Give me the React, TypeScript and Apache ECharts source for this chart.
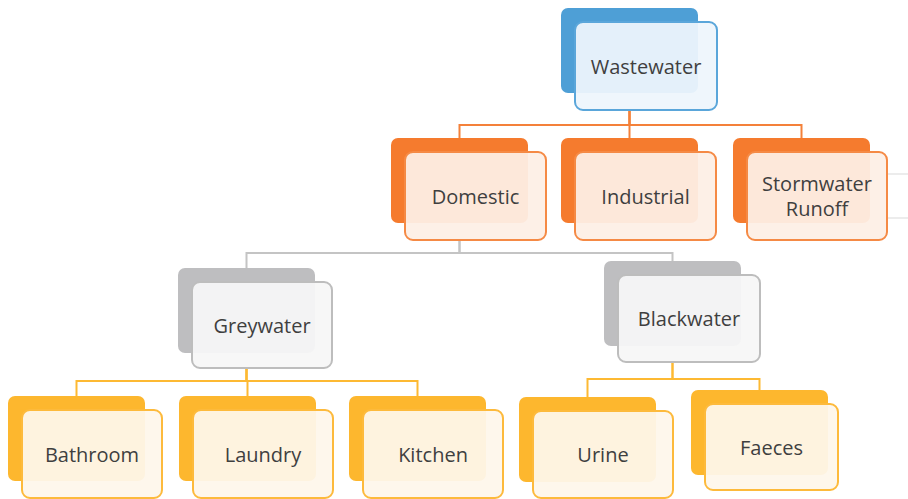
import React, { useEffect, useRef } from "react";
import * as echarts from "echarts";

// ---- data ----
const nodeNames = [
  "Wastewater",
  "Domestic",
  "Industrial",
  "Stormwater\nRunoff",
  "Greywater",
  "Blackwater",
  "Bathroom",
  "Laundry",
  "Kitchen",
  "Urine",
  "Faeces",
];
const nodeParents = [-1, 0, 0, 0, 1, 1, 4, 4, 4, 5, 5];
const nodeTheme = ["blue", "orange", "orange", "orange", "grey", "grey", "yellow", "yellow", "yellow", "yellow", "yellow"];

// ---- layout (front box left/top/width/height) ----
const frontX = [575, 405, 575, 747, 192, 618, 22, 193, 363, 533, 705];
const frontY = [22, 152, 152, 152, 282, 275, 410, 410, 410, 411, 404];
const frontW = [142, 141, 141, 140, 140, 142, 140, 140, 140, 140, 133];
const frontH = [88, 88, 88, 88, 86, 87, 88, 88, 88, 87, 86];
const backDX = -14;
const backDY = -14;
const backW = 137;
const backH = 85;
const busY: Record<number, number> = { 0: 125, 1: 253, 4: 381, 5: 379 };

const themes: Record<string, { back: string; fill: string; border: string; line: string }> = {
  blue: { back: "#4E9FD6", fill: "rgba(238,245,252,0.94)", border: "#5AA6DA", line: "#F4813A" },
  orange: { back: "#F57B2E", fill: "rgba(253,239,230,0.94)", border: "#F58A45", line: "#C4C4C4" },
  grey: { back: "#BEBEC0", fill: "rgba(247,247,247,0.94)", border: "#BDBDBD", line: "#FDB933" },
  yellow: { back: "#FDB72E", fill: "rgba(254,247,235,0.94)", border: "#FDBA3C", line: "#FDB933" },
};

export default function App() {
  const ref = useRef<HTMLDivElement>(null);
  useEffect(() => {
    if (!ref.current) return;
    const chart = echarts.init(ref.current, undefined, { renderer: "svg" });
    const elements: any[] = [];
    const stemX = (i: number) => frontX[i] + backDX + backW / 2;

    // connectors
    nodeParents.forEach((p, i) => {
      if (p < 0) return;
      const color = themes[nodeTheme[p]].line;
      const by = busY[p];
      const px = stemX(p);
      const cx = stemX(i);
      elements.push({
        type: "polyline",
        z: 1,
        shape: {
          points: [
            [px, frontY[p] + frontH[p]],
            [px, by],
            [cx, by],
            [cx, frontY[i] + backDY],
          ],
        },
        style: { stroke: color, lineWidth: 2, fill: null },
      });
    });

    // faint cut-off lines at right edge
    [174, 218].forEach((y) => {
      elements.push({
        type: "line",
        z: 1,
        shape: { x1: 888, y1: y, x2: 908, y2: y },
        style: { stroke: "#E6E6E6", lineWidth: 1.5 },
      });
    });

    nodeNames.forEach((name, i) => {
      const t = themes[nodeTheme[i]];
      elements.push({
        type: "rect",
        z: 2,
        shape: { x: frontX[i] + backDX, y: frontY[i] + backDY, width: backW, height: backH, r: 7 },
        style: { fill: t.back },
      });
      elements.push({
        type: "rect",
        z: 3,
        shape: { x: frontX[i], y: frontY[i], width: frontW[i], height: frontH[i], r: 8 },
        style: { fill: t.fill, stroke: t.border, lineWidth: 2 },
      });
      elements.push({
        type: "text",
        z: 4,
        x: frontX[i] + frontW[i] / 2,
        y: frontY[i] + frontH[i] / 2,
        style: {
          text: name,
          fill: "#3F3F3F",
          font: "20px 'Open Sans', sans-serif",
          align: "center",
          verticalAlign: "middle",
          lineHeight: 25,
        },
      });
    });

    chart.setOption({
      animation: false,
      backgroundColor: "#ffffff",
      graphic: { elements },
    });
    return () => chart.dispose();
  }, []);
  return <div ref={ref} style={{ width: 908, height: 499, position: "absolute", left: 0, top: 0 }} />;
}
